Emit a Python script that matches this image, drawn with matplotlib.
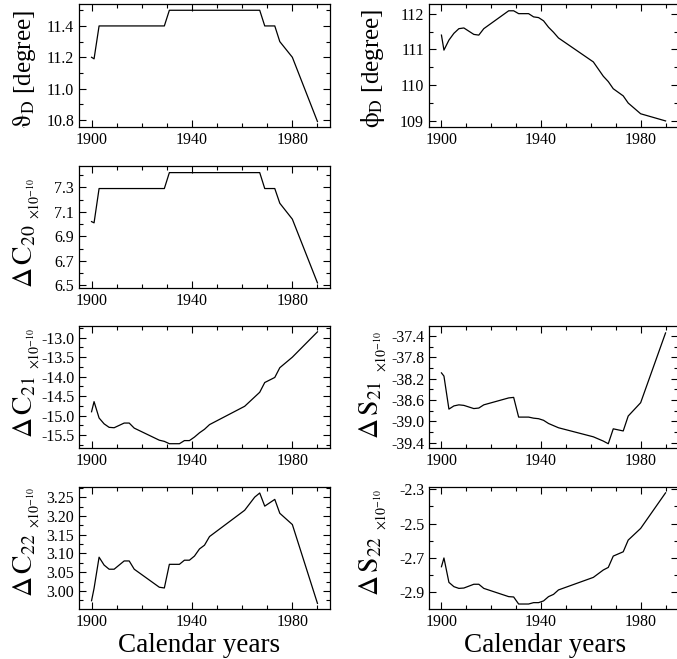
import matplotlib
matplotlib.use('Agg')
import matplotlib.pyplot as plt
from matplotlib.ticker import MultipleLocator, FormatStrFormatter

plt.rcParams['font.family'] = ['Liberation Serif', 'DejaVu Serif']
plt.rcParams['mathtext.fontset'] = 'stix'
plt.rcParams['axes.unicode_minus'] = False

# years of the tabulated values
years = [1900, 1901, 1903, 1905, 1907, 1909, 1913, 1915, 1917, 1927, 1929,
         1931, 1935, 1937, 1939, 1941, 1943, 1945, 1947, 1961, 1965, 1967,
         1969, 1973, 1975, 1980, 1990]
year_ticks = [1900, 1940, 1980]

theta_d = [11.20, 11.19, 11.40, 11.40, 11.40, 11.40, 11.40, 11.40, 11.40, 11.40, 11.40,
           11.50, 11.50, 11.50, 11.50, 11.50, 11.50, 11.50, 11.50, 11.50, 11.50, 11.50,
           11.40, 11.40, 11.30, 11.20, 10.79]
phi_d = [111.40, 110.98, 111.26, 111.45, 111.58, 111.60, 111.42, 111.40, 111.58, 112.08, 112.08,
         112.00, 112.00, 111.91, 111.89, 111.80, 111.62, 111.48, 111.32, 110.65, 110.25, 110.10,
         109.90, 109.70, 109.50, 109.20, 109.00]
c20 = [7.02, 7.01, 7.29, 7.29, 7.29, 7.29, 7.29, 7.29, 7.29, 7.29, 7.29,
       7.42, 7.42, 7.42, 7.42, 7.42, 7.42, 7.42, 7.42, 7.42, 7.42, 7.42,
       7.29, 7.29, 7.17, 7.04, 6.52]
c21 = [-14.90, -14.64, -15.06, -15.21, -15.30, -15.31, -15.19, -15.19, -15.32, -15.63, -15.66,
       -15.72, -15.72, -15.64, -15.64, -15.55, -15.44, -15.35, -15.23, -14.76, -14.52, -14.40,
       -14.15, -14.02, -13.77, -13.50, -12.85]
s21 = [-38.09, -38.15, -38.77, -38.71, -38.69, -38.70, -38.76, -38.75, -38.69, -38.56, -38.55,
       -38.92, -38.92, -38.94, -38.95, -38.98, -39.04, -39.08, -39.12, -39.29, -39.37, -39.42,
       -39.14, -39.18, -38.90, -38.65, -37.34]
c22 = [2.974, 3.007, 3.090, 3.069, 3.058, 3.058, 3.080, 3.080, 3.058, 3.010, 3.008,
       3.071, 3.071, 3.082, 3.082, 3.093, 3.112, 3.122, 3.145, 3.215, 3.250, 3.261,
       3.226, 3.244, 3.207, 3.177, 2.967]
s22 = [-2.751, -2.700, -2.842, -2.867, -2.877, -2.875, -2.853, -2.853, -2.877, -2.925, -2.927,
       -2.968, -2.968, -2.960, -2.960, -2.950, -2.925, -2.912, -2.886, -2.813, -2.770, -2.755,
       -2.689, -2.664, -2.596, -2.528, -2.321]

W, H = 677, 659
fig = plt.figure(figsize=(W / 100, H / 100), dpi=100)


def px(x, y):
    return x / W, 1 - y / H


def make_axes(left, top, right, bottom):
    ax = fig.add_axes([left / W, 1 - bottom / H, (right - left) / W, (bottom - top) / H])
    ax.set_xlim(1895, 1995)
    ax.set_xticks(year_ticks)
    ax.xaxis.set_minor_locator(MultipleLocator(10))
    ax.tick_params(which='both', direction='in', top=True, right=True, labelsize=11.5, width=0.8)
    ax.tick_params(which='major', length=5)
    ax.tick_params(which='minor', length=3)
    for s in ax.spines.values():
        s.set_linewidth(0.9)
    return ax


def panel(ax, vals, ylim, yticks, minor, fmt):
    ax.plot(years, vals, color='black', lw=0.9)
    ax.set_ylim(*ylim)
    ax.set_yticks(yticks)
    ax.yaxis.set_minor_locator(MultipleLocator(minor))
    ax.yaxis.set_major_formatter(FormatStrFormatter(fmt))


def vlabel(x, y, s, size):
    fig.text(*px(x, y), s, rotation=90, rotation_mode='anchor', ha='left',
             va='baseline', fontsize=size)


LX0, LX1 = 79, 330
RX0, RX1 = 429, 678
rows = [(4, 127), (166, 288), (326, 448), (487, 609)]

ax1 = make_axes(LX0, rows[0][0], LX1, rows[0][1])
panel(ax1, theta_d, (10.755, 11.54), [10.8, 11.0, 11.2, 11.4], 0.1, '%.1f')
vlabel(31, 128, r'$\mathrm{\vartheta}_{\mathrm{D}}$ [degree]', 18)

ax2 = make_axes(RX0, rows[0][0], RX1, rows[0][1])
panel(ax2, phi_d, (108.83, 112.27), [109, 110, 111, 112], 0.5, '%.0f')
vlabel(379, 128, r'$\mathrm{\phi}_{\mathrm{D}}$ [degree]', 18)

ax3 = make_axes(LX0, rows[1][0], LX1, rows[1][1])
panel(ax3, c20, (6.478, 7.474), [6.5, 6.7, 6.9, 7.1, 7.3], 0.1, '%.1f')
vlabel(32, 288, r'$\Delta\,\mathrm{C}_{20}$', 20)
vlabel(40, 219, r'$\times10^{-10}$', 10)

ax4 = make_axes(LX0, rows[2][0], LX1, rows[2][1])
panel(ax4, c21, (-15.83, -12.70), [-15.5, -15.0, -14.5, -14.0, -13.5, -13.0], 0.25, '%.1f')
vlabel(32, 438, r'$\Delta\,\mathrm{C}_{21}$', 20)
vlabel(40, 369, r'$\times10^{-10}$', 10)

ax5 = make_axes(RX0, rows[2][0], RX1, rows[2][1])
panel(ax5, s21, (-39.50, -37.21), [-39.4, -39.0, -38.6, -38.2, -37.8, -37.4], 0.2, '%.1f')
vlabel(378, 439, r'$\Delta\,\mathrm{S}_{21}$', 20)
vlabel(387, 372, r'$\times10^{-10}$', 10)

ax6 = make_axes(LX0, rows[3][0], LX1, rows[3][1])
panel(ax6, c22, (2.952, 3.277), [3.00, 3.05, 3.10, 3.15, 3.20, 3.25], 0.025, '%.2f')
vlabel(32, 597, r'$\Delta\,\mathrm{C}_{22}$', 20)
vlabel(40, 528, r'$\times10^{-10}$', 10)

ax7 = make_axes(RX0, rows[3][0], RX1, rows[3][1])
panel(ax7, s22, (-2.997, -2.287), [-2.9, -2.7, -2.5, -2.3], 0.1, '%.1f')
vlabel(378, 596, r'$\Delta\,\mathrm{S}_{22}$', 20)
vlabel(387, 530, r'$\times10^{-10}$', 10)

fig.text(*px(199, 652), 'Calendar years', ha='center', va='baseline', fontsize=19.5)
fig.text(*px(545, 652), 'Calendar years', ha='center', va='baseline', fontsize=19.5)

fig.savefig('out.png', dpi=100)
